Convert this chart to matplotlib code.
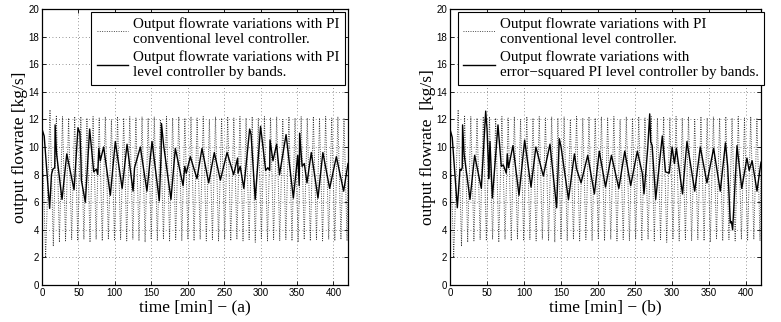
import matplotlib
matplotlib.use("Agg")
from matplotlib import pyplot as plt

# dotted series: conventional PI level controller (peaks / troughs)
t_conv = [0, 5, 11,
          15.5, 19.7, 23.9, 28.1, 32.3, 36.5, 40.7, 44.9, 49.1, 53.3,
          57.5, 61.7, 65.9, 70.1, 74.3, 78.5, 82.7, 86.9, 91.1, 95.3,
          99.5, 103.7, 107.9, 112.1, 116.3, 120.5, 124.7, 128.9, 133.1, 137.3,
          141.5, 145.7, 149.9, 154.1, 158.3, 162.5, 166.7, 170.9, 175.1, 179.3,
          183.5, 187.7, 191.9, 196.1, 200.3, 204.5, 208.7, 212.9, 217.1, 221.3,
          225.5, 229.7, 233.9, 238.1, 242.3, 246.5, 250.7, 254.9, 259.1, 263.3,
          267.5, 271.7, 275.9, 280.1, 284.3, 288.5, 292.7, 296.9, 301.1, 305.3,
          309.5, 313.7, 317.9, 322.1, 326.3, 330.5, 334.7, 338.9, 343.1, 347.3,
          351.5, 355.7, 359.9, 364.1, 368.3, 372.5, 376.7, 380.9, 385.1, 389.3,
          393.5, 397.7, 401.9, 406.1, 410.3, 414.5, 418.7, 420]
y_conv = [11.3, 2.0, 12.7, 2.8, 12.3, 3.1, 12.2, 3.2, 12.1, 3.3,
          12.2, 3.2, 12.2, 3.3, 12.1, 3.1, 12.2, 3.3, 12.1, 3.2,
          12.2, 3.3, 12.0, 3.2, 12.2, 3.3, 12.1, 3.2, 12.2, 3.3,
          12.1, 3.2, 12.2, 3.1, 12.1, 3.3, 12.2, 3.2, 12.0, 3.3,
          12.2, 3.2, 12.1, 3.3, 12.2, 3.2, 12.1, 3.3, 12.2, 3.2,
          12.1, 3.3, 12.2, 3.2, 12.0, 3.3, 12.2, 3.2, 12.1, 3.3,
          12.2, 3.2, 12.1, 3.3, 12.2, 3.2, 12.1, 3.3, 12.2, 3.1,
          12.1, 3.3, 12.2, 3.2, 12.1, 3.3, 12.2, 3.2, 12.0, 3.3,
          12.2, 3.2, 12.1, 3.1, 12.2, 3.3, 12.1, 3.2, 12.2, 3.3,
          12.1, 3.2, 12.2, 3.3, 12.1, 3.2, 12.2, 3.3, 12.1, 3.2,
          8.0]

# solid series (a): PI level controller by bands
t_a = [0, 3, 10.5, 13, 15, 17.5, 18, 20, 27.5, 34, 44, 49.4, 52, 53.5, 54, 59.5,
       65.4, 71, 74.6, 76.5, 78, 80, 84.6, 93.8, 100.6, 110, 116.7, 125, 127, 135,
       144, 151, 161, 163.5, 164, 167, 177, 183, 193.6, 196, 198, 203.6, 212.7,
       219.6, 228.8, 236.5, 244.8, 254, 263, 268.5, 269, 272, 277, 285, 287, 292.6,
       300, 307, 310, 312.5, 313, 317, 322, 326, 335, 345, 351, 353, 353.6, 357, 360,
       363.7, 369.6, 378.8, 385.5, 394.8, 404, 414, 420]
y_a = [11.3, 10.8, 5.55, 8.0, 8.4, 8.5, 11.6, 9.5, 6.2, 9.5, 6.9, 11.4, 11.0, 9.0,
       7.6, 6.0, 11.3, 8.2, 8.4, 8.0, 9.9, 9.0, 10.0, 6.5, 10.4, 7.0, 10.2, 6.8, 8.5,
       10.0, 6.8, 10.4, 6.1, 9.5, 11.7, 10.1, 6.2, 9.9, 7.2, 8.6, 8.1, 9.3, 7.7, 9.9,
       7.4, 9.6, 7.6, 9.6, 8.0, 9.2, 8.1, 8.6, 7.0, 11.3, 10.9, 6.2, 11.5, 8.3, 8.5,
       8.3, 10.5, 9.0, 10.2, 8.0, 10.9, 6.3, 9.4, 7.2, 11.0, 8.6, 8.8, 7.4, 9.6, 6.3,
       9.6, 7.0, 9.3, 6.8, 8.8]

# solid series (b): error-squared PI level controller by bands
t_b = [0, 3, 9.9, 13.5, 15, 16.5, 17, 19, 27, 33.3, 42.3, 48.2, 50, 52, 52.2, 54,
       57.2, 64.8, 69.3, 72, 76, 77.4, 79, 85, 93.2, 100.8, 109.4, 116, 126, 135,
       144, 147.6, 150, 160, 168, 171, 177, 186, 195, 201.6, 210, 218, 228, 236, 244,
       253, 259.7, 262, 267, 269.7, 271, 273, 277.8, 286.7, 291, 296, 300, 303, 305.7,
       314, 320, 330.5, 338, 347, 356, 365, 372, 375, 378.6, 380, 381.7, 387.6, 394,
       401, 404, 408, 414.6, 420]
y_b = [11.3, 10.7, 5.6, 8.4, 8.3, 8.5, 11.6, 9.5, 6.2, 9.4, 7.0, 12.6, 11.3, 8.5,
       7.7, 10.4, 6.3, 11.6, 8.6, 8.7, 8.1, 9.5, 8.5, 10.1, 6.5, 10.5, 7.1, 10.0, 7.9,
       10.2, 5.6, 10.6, 10.0, 6.2, 9.5, 8.4, 7.4, 9.4, 6.6, 9.7, 7.1, 9.4, 7.0, 9.7,
       7.2, 9.7, 8.1, 6.6, 9.9, 12.4, 10.4, 10.1, 6.2, 10.8, 8.2, 8.1, 10.0, 8.8, 9.9,
       6.6, 10.4, 6.8, 10.0, 7.4, 9.9, 6.8, 10.3, 8.6, 4.5, 4.6, 4.0, 10.1, 7.0, 9.2,
       8.3, 9.0, 6.8, 8.9]

xticks = [0, 50, 100, 150, 200, 250, 300, 350, 400]
yticks = [0, 2, 4, 6, 8, 10, 12, 14, 16, 18, 20]

lab_conv = "Output flowrate variations with PI\nconventional level controller."
lab_a = "Output flowrate variations with PI\nlevel controller by bands."
lab_b = "Output flowrate variations with\nerror\u2212squared PI level controller by bands."

serif = ["Liberation Serif", "DejaVu Serif"]
sans = ["Liberation Sans", "DejaVu Sans"]

fig = plt.figure(figsize=(7.81, 3.22), dpi=100)
W, H = 781.0, 322.0
ax1 = fig.add_axes([42 / W, 37 / H, 306 / W, 276 / H])
ax2 = fig.add_axes([450 / W, 37 / H, 311 / W, 276 / H])

panels = [(ax1, t_a, y_a, lab_a, "output flowrate [kg/s]", "time [min] \u2212 (a)", 345),
          (ax2, t_b, y_b, lab_b, "output flowrate  [kg/s]", "time [min] \u2212 (b)", 764)]

for ax, t, y, lab, ylab, xlab, leg_right in panels:
    ax.plot(t_conv, y_conv, color="0.2", lw=0.65, linestyle=(0, (1, 1.6)), label=lab_conv)
    ax.plot(t, y, color="k", lw=1.0, label=lab)
    ax.set_xlim(0, 420)
    ax.set_ylim(0, 20)
    ax.set_xticks(xticks)
    ax.set_yticks(yticks)
    ax.grid(True, color="0.45", linestyle=(0, (1, 3)), lw=0.6)
    ax.tick_params(direction="in", top=True, right=True, length=3, width=0.6,
                   labelsize=7, pad=2)
    for tl in ax.get_xticklabels() + ax.get_yticklabels():
        tl.set_family(sans)
    for sp in ax.spines.values():
        sp.set_linewidth(0.9)
    ax.set_xlabel(xlab, family=serif, fontsize=12.5, labelpad=1)
    ax.set_ylabel(ylab, family=serif, fontsize=12.5, labelpad=0.5)
    leg = ax.legend(loc="upper right", bbox_to_anchor=(leg_right / W, 1 - 12 / H),
                    bbox_transform=fig.transFigure, prop={"family": serif, "size": 10.8},
                    handlelength=2.1, handletextpad=0.35, borderpad=0.35,
                    labelspacing=0.3, borderaxespad=0, fancybox=False, framealpha=1)
    leg.get_frame().set_edgecolor("k")
    leg.get_frame().set_linewidth(0.8)

plt.savefig("out.png", dpi=100)
